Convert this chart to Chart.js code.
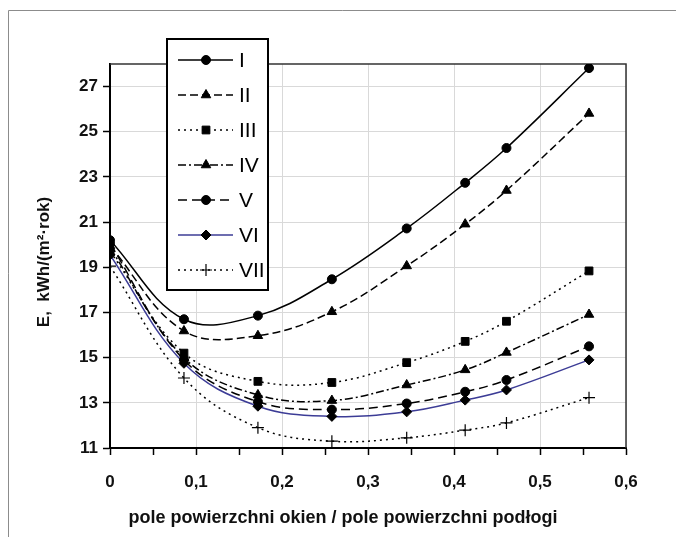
<!DOCTYPE html>
<html>
<head>
<meta charset="utf-8">
<script src="https://cdn.jsdelivr.net/npm/chart.js@4.4.1/dist/chart.umd.min.js"></script>
<style>
  html, body { margin: 0; padding: 0; background: #fff; }
  canvas { display: block; }
</style>
</head>
<body>
<canvas id="chart" width="676" height="537"></canvas>
<script>
// x: window area / floor area
const xs = [0, 0.086, 0.172, 0.258, 0.345, 0.413, 0.461, 0.557];

// E, kWh/(m2 rok) for each variant
const seriesI   = [20.2, 16.7, 16.86, 18.47, 20.72, 22.74, 24.28, 27.82];
const seriesII  = [19.95, 16.18, 15.97, 17.03, 19.06, 20.91, 22.4, 25.81];
const seriesIII = [19.7, 15.2, 13.95, 13.9, 14.78, 15.72, 16.61, 18.84];
const seriesIV  = [19.85, 15.0, 13.35, 13.1, 13.79, 14.46, 15.23, 16.91];
const seriesV   = [20.05, 14.9, 13.05, 12.7, 12.97, 13.49, 14.01, 15.5];
const seriesVI  = [19.55, 14.75, 12.85, 12.4, 12.6, 13.12, 13.57, 14.9];
const seriesVII = [19.05, 14.1, 11.9, 11.3, 11.45, 11.79, 12.11, 13.23];

const names = ["I", "II", "III", "IV", "V", "VI", "VII"];

const yTicks = [11, 13, 15, 17, 19, 21, 23, 25, 27];
const xTicks = [0, 0.05, 0.1, 0.15, 0.2, 0.25, 0.3, 0.35, 0.4, 0.45, 0.5, 0.55, 0.6];
const xLabels = ["0", "0,1", "0,2", "0,3", "0,4", "0,5", "0,6"];

const FONT = "'Liberation Sans', Arial, sans-serif";

const toPoints = (vals) => vals.map((v, i) => ({ x: xs[i], y: v }));

const makeSet = (label, vals, opts) => ({
  label: label,
  data: toPoints(vals),
  showLine: true,
  borderColor: "#000",
  borderWidth: 1.5,
  backgroundColor: "#000",
  pointBackgroundColor: "#000",
  pointBorderColor: "#000",
  pointBorderWidth: 1,
  tension: 0.38,
  ...opts,
});

const datasets = [
  makeSet(names[0], seriesI,   { pointStyle: "circle",   pointRadius: 4.5 }),
  makeSet(names[1], seriesII,  { pointStyle: "triangle", pointRadius: 5.5, borderDash: [8, 4] }),
  makeSet(names[2], seriesIII, { pointStyle: "rect",     pointRadius: 5.5, borderDash: [2, 4] }),
  makeSet(names[3], seriesIV,  { pointStyle: "triangle", pointRadius: 5.5, borderDash: [8, 3, 2, 3] }),
  makeSet(names[4], seriesV,   { pointStyle: "circle",   pointRadius: 4.5, borderDash: [9, 5] }),
  makeSet(names[5], seriesVI,  { pointStyle: "rectRot",  pointRadius: 5, borderColor: "#3c3c96" }),
  makeSet(names[6], seriesVII, { pointStyle: "cross",    pointRadius: 6, pointBorderWidth: 1.2, borderDash: [2, 4] }),
];

// frame, plot border, axis titles and the boxed legend
const decorations = {
  id: "decorations",
  beforeDraw(chart) {
    const ctx = chart.ctx;
    ctx.save();
    ctx.strokeStyle = "#8c8c8c";
    ctx.lineWidth = 1;
    ctx.beginPath();
    ctx.moveTo(8.5, 537);
    ctx.lineTo(8.5, 10.5);
    ctx.lineTo(676, 10.5);
    ctx.stroke();
    ctx.restore();
  },
  beforeDatasetsDraw(chart) {
    const { ctx, chartArea: a } = chart;
    ctx.save();
    ctx.strokeStyle = "#333";
    ctx.lineWidth = 1.5;
    ctx.beginPath();
    ctx.moveTo(a.left, a.top);
    ctx.lineTo(a.right, a.top);
    ctx.lineTo(a.right, a.bottom);
    ctx.stroke();
    ctx.restore();
  },
  afterDraw(chart) {
    const ctx = chart.ctx;
    ctx.save();
    ctx.fillStyle = "#111";
    ctx.font = "bold 18px " + FONT;
    ctx.textAlign = "center";
    ctx.textBaseline = "middle";
    ctx.fillText("pole powierzchni okien / pole powierzchni podłogi", 343, 518);

    ctx.font = "bold 17px " + FONT;
    ctx.translate(44, 262);
    ctx.rotate(-Math.PI / 2);
    ctx.fillText("E,  kWh/(m²·rok)", 0, 0);
    ctx.restore();

    // legend box
    const bx = 167, by = 39, bw = 101, bh = 251;
    ctx.save();
    ctx.fillStyle = "#fff";
    ctx.fillRect(bx, by, bw, bh);
    ctx.strokeStyle = "#000";
    ctx.lineWidth = 2;
    ctx.strokeRect(bx, by, bw, bh);

    chart.data.datasets.forEach((ds, i) => {
      const y = 60 + i * 35;
      ctx.save();
      ctx.strokeStyle = ds.borderColor;
      ctx.lineWidth = ds.borderWidth;
      ctx.setLineDash(ds.borderDash || []);
      ctx.beginPath();
      ctx.moveTo(178, y);
      ctx.lineTo(233, y);
      ctx.stroke();
      ctx.setLineDash([]);
      ctx.fillStyle = "#000";
      ctx.strokeStyle = "#000";
      ctx.lineWidth = ds.pointBorderWidth;
      Chart.helpers.drawPoint(ctx, {
        pointStyle: ds.pointStyle,
        radius: ds.pointRadius,
        rotation: 0,
        borderWidth: ds.pointBorderWidth,
      }, 206, y);
      ctx.restore();

      ctx.fillStyle = "#000";
      ctx.font = "21px " + FONT;
      ctx.textAlign = "left";
      ctx.textBaseline = "middle";
      ctx.fillText(ds.label, 239, y + 1);
    });
    ctx.restore();
  },
};

new Chart(document.getElementById("chart"), {
  type: "scatter",
  data: { datasets: datasets },
  plugins: [decorations],
  options: {
    responsive: false,
    animation: false,
    devicePixelRatio: 1,
    layout: { padding: { top: 64, right: 50, left: 0, bottom: 0 } },
    plugins: {
      legend: { display: false },
      tooltip: { enabled: false },
    },
    scales: {
      x: {
        type: "linear",
        min: 0,
        max: 0.6,
        afterBuildTicks: (axis) => {
          axis.ticks = xTicks.map((v) => ({ value: v }));
        },
        afterFit: (axis) => {
          axis.height = 89;
        },
        ticks: {
          autoSkip: false,
          maxRotation: 0,
          padding: 17,
          color: "#111",
          font: { family: FONT, size: 17, weight: "bold" },
          callback: (value, index) => (index % 2 === 0 ? xLabels[index / 2] : ""),
        },
        grid: {
          color: (c) => (c.index % 2 === 0 ? "#d9d9d9" : "rgba(0,0,0,0)"),
          lineWidth: 1,
          tickColor: "#000",
          tickWidth: 1.5,
          tickLength: 7,
        },
        border: { display: true, color: "#000", width: 2 },
      },
      y: {
        type: "linear",
        min: 11,
        max: 28,
        afterBuildTicks: (axis) => {
          axis.ticks = yTicks.map((v) => ({ value: v }));
        },
        afterFit: (axis) => {
          axis.width = 110;
        },
        ticks: {
          autoSkip: false,
          padding: 5,
          color: "#111",
          font: { family: FONT, size: 17, weight: "bold" },
        },
        grid: {
          color: "#d9d9d9",
          lineWidth: 1,
          tickColor: "#000",
          tickWidth: 1.5,
          tickLength: 7,
        },
        border: { display: true, color: "#000", width: 2 },
      },
    },
  },
});
</script>
</body>
</html>
